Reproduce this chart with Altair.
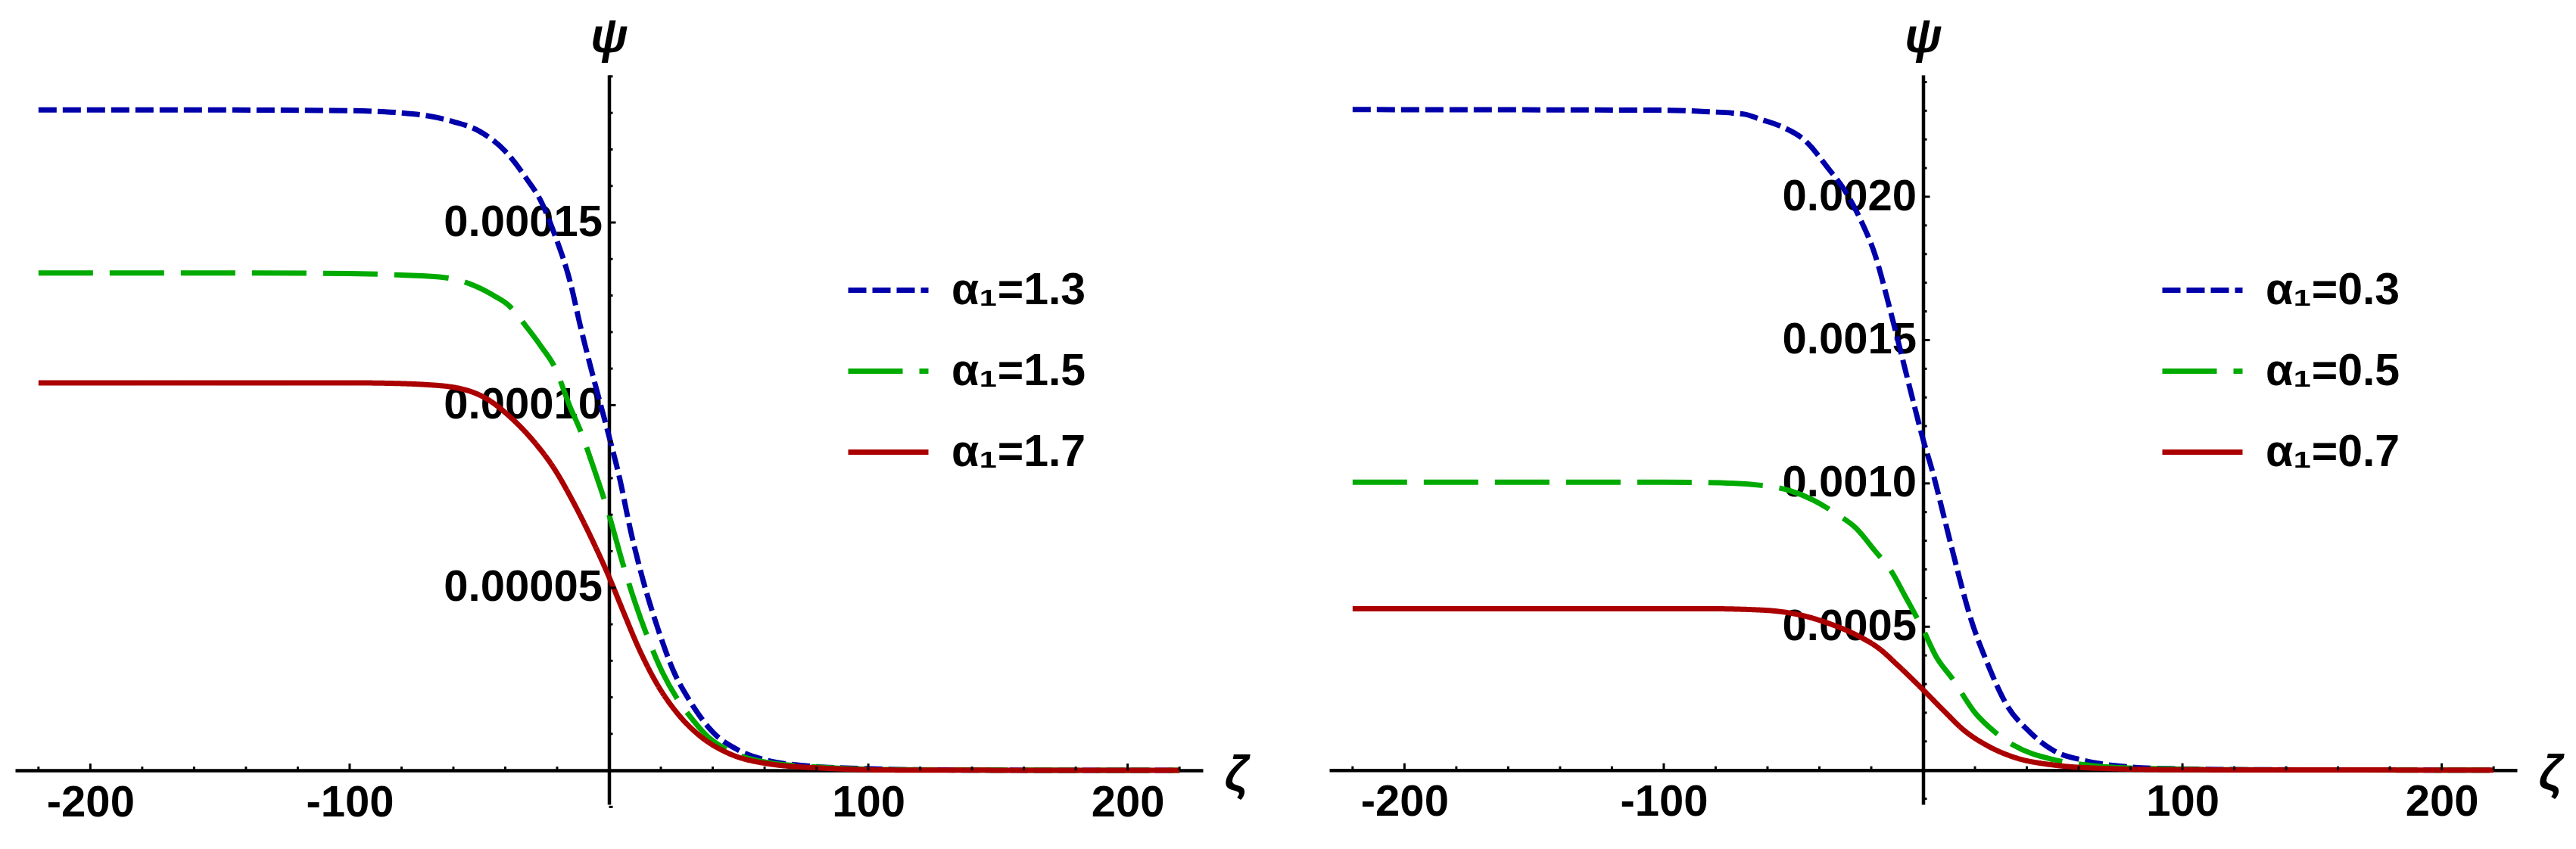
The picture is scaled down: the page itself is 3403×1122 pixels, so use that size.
import altair as alt
import pandas as pd

FONT = "Liberation Sans"

# ---------------- data ----------------
labels_left = ["α₁=1.3", "α₁=1.5", "α₁=1.7"]
labels_right = ["α₁=0.3", "α₁=0.5", "α₁=0.7"]
colors = ["#0000AA", "#00AA00", "#AA0000"]
dashes = [[24, 8], [72, 22], [1, 0]]

# left panel (psi in units of 1e-4)
zeta_l1 = [-220, -150, -100, -80, -70, -60, -50, -40, -32, -26, -21, -15, -11, -6, 0, 4, 8.5, 13, 19, 25, 31, 40, 50, 60, 75, 98, 130, 220]
psi_l1 = [1.808, 1.808, 1.806, 1.800, 1.792, 1.776, 1.750, 1.695, 1.622, 1.555, 1.468, 1.338, 1.215, 1.075, 0.915, 0.803, 0.651, 0.524, 0.385, 0.270, 0.192, 0.105, 0.055, 0.029, 0.013, 0.005, 0.001, 0.0]

zeta_l2 = [-220, -150, -100, -80, -63, -53, -44, -39, -32, -26, -21, -15, -11, -6, 0, 5.5, 10, 14.5, 20.5, 26.5, 31, 38, 46, 60, 83, 110, 220]
psi_l2 = [1.362, 1.362, 1.360, 1.356, 1.349, 1.330, 1.298, 1.275, 1.216, 1.159, 1.105, 0.995, 0.930, 0.830, 0.700, 0.562, 0.461, 0.372, 0.270, 0.194, 0.150, 0.093, 0.055, 0.023, 0.008, 0.002, 0.0]

zeta_l3 = [-220, -150, -100, -80, -73, -58.5, -46.6, -37.7, -28.7, -21.3, -13.8, -6.4, 0, 5.5, 11.5, 18.9, 26.4, 35.3, 45.7, 60.6, 83, 110, 220]
psi_l3 = [1.061, 1.061, 1.061, 1.059, 1.057, 1.047, 1.015, 0.965, 0.898, 0.828, 0.735, 0.630, 0.530, 0.435, 0.334, 0.232, 0.156, 0.093, 0.048, 0.019, 0.006, 0.001, 0.0]

# right panel (psi in units of 1e-3)
zeta_r1 = [-220, -100, -84, -69, -63, -54.4, -45.4, -36.5, -30.5, -24.6, -18.6, -12.7, -8.2, -3.7, 0, 3.7, 8.2, 12.7, 18.6, 24.6, 32, 41, 50, 61.8, 76.7, 94.6, 130, 220]
psi_r1 = [2.304, 2.302, 2.297, 2.288, 2.271, 2.244, 2.195, 2.098, 2.026, 1.929, 1.799, 1.605, 1.444, 1.282, 1.153, 1.039, 0.878, 0.716, 0.522, 0.377, 0.231, 0.134, 0.0695, 0.034, 0.013, 0.005, 0.001, 0.0]

zeta_r2 = [-220, -100, -84, -63.3, -51.4, -42.4, -33.5, -26, -18.6, -12.7, -6.7, 0, 5.2, 11.2, 20.1, 27.5, 35, 49.9, 64.8, 87, 120, 220]
psi_r2 = [1.004, 1.004, 1.003, 0.994, 0.975, 0.942, 0.894, 0.845, 0.765, 0.700, 0.603, 0.490, 0.393, 0.320, 0.199, 0.134, 0.086, 0.037, 0.016, 0.005, 0.001, 0.0]

zeta_r3 = [-220, -100, -84, -61.8, -46.9, -36.5, -24.6, -17.1, -9.7, 0, 8.2, 15.6, 24.6, 35, 50, 72, 100, 220]
psi_r3 = [0.563, 0.563, 0.563, 0.558, 0.540, 0.512, 0.466, 0.425, 0.365, 0.280, 0.205, 0.140, 0.086, 0.045, 0.018, 0.005, 0.001, 0.0]

x_major = [-200, -100, 100, 200]
x_minor = [-220, -180, -160, -140, -120, -80, -60, -40, -20, 20, 40, 60, 80, 120, 140, 160, 180, 220]
yl_major = [5e-5, 1e-4, 1.5e-4]
yl_minor = [-1e-5, 1e-5, 2e-5, 3e-5, 4e-5, 6e-5, 7e-5, 8e-5, 9e-5, 1.1e-4, 1.2e-4, 1.3e-4, 1.4e-4, 1.6e-4, 1.7e-4, 1.8e-4, 1.9e-4]
yr_major = [5e-4, 1e-3, 1.5e-3, 2e-3]
yr_minor = [-1e-4, 1e-4, 2e-4, 3e-4, 4e-4, 6e-4, 7e-4, 8e-4, 9e-4, 1.1e-3, 1.2e-3, 1.3e-3, 1.4e-3, 1.6e-3, 1.7e-3, 1.8e-3, 1.9e-3, 2.1e-3, 2.2e-3, 2.3e-3, 2.4e-3]


def frame(labels, zetas, psis, unit):
    rows = []
    for lab, zs, ps in zip(labels, zetas, psis):
        for z, p in zip(zs, ps):
            rows.append({"zeta": z, "psi": p * unit, "series": lab})
    return pd.DataFrame(rows)


df_left = frame(labels_left, [zeta_l1, zeta_l2, zeta_l3], [psi_l1, psi_l2, psi_l3], 1e-4)
df_right = frame(labels_right, [zeta_r1, zeta_r2, zeta_r3], [psi_r1, psi_r2, psi_r3], 1e-3)

W, H = 1569, 964
XDOM = [-229, 229]


def panel(df, labels, ydom, ymaj, ymin, yfmt):
    x0 = W * (0 - XDOM[0]) / (XDOM[1] - XDOM[0])
    y0 = H * (ydom[1] - 0) / (ydom[1] - ydom[0])
    xs = alt.Scale(domain=XDOM, nice=False, zero=False)
    ys = alt.Scale(domain=ydom, nice=False, zero=False)

    leg = alt.Legend(
        title=None, orient="none", legendX=1097, legendY=228,
        symbolType="stroke", symbolSize=11236, symbolStrokeWidth=7,
        labelFont=FONT, labelFontSize=59, labelFontWeight="bold", labelColor="black",
        labelOffset=27, labelLimit=500, rowPadding=20, padding=0,
    )

    xaxis = alt.Axis(
        orient="bottom", offset=-(H - y0), values=x_major, labelExpr="'' + datum.value",
        ticks=False, tickSize=0, grid=False, domainColor="black", domainWidth=4.5,
        labelFont=FONT, labelFontSize=58, labelFontWeight="bold", labelColor="black",
        labelPadding=14, labelFlush=False, labelOverlap=False, labelLimit=500,
        title="ζ", titleFont=FONT, titleFontSize=64, titleFontStyle="italic",
        titleFontWeight="bold", titleColor="black", titleX=W + 44, titleY=6,
        titleAngle=0, titleAlign="center", titleBaseline="middle",
    )
    yaxis = alt.Axis(
        orient="left", offset=-x0, values=ymaj, format=yfmt,
        ticks=False, tickSize=0, grid=False, domainColor="black", domainWidth=4.5,
        labelFont=FONT, labelFontSize=58, labelFontWeight="bold", labelColor="black",
        labelPadding=9, labelFlush=False, labelOverlap=False, labelLimit=500,
        title="ψ", titleFont=FONT, titleFontSize=64, titleFontStyle="italic",
        titleFontWeight="bold", titleColor="black", titleX=0, titleY=-50,
        titleAngle=0, titleAlign="center", titleBaseline="middle",
    )

    X = alt.X("zeta:Q", scale=xs, axis=xaxis)
    Y = alt.Y("psi:Q", scale=ys, axis=yaxis)

    lines = alt.Chart(df).mark_line(strokeWidth=7, strokeCap="butt", interpolate="monotone").encode(
        x=X,
        y=Y,
        color=alt.Color("series:N", scale=alt.Scale(domain=labels, range=colors), legend=leg),
        strokeDash=alt.StrokeDash("series:N", scale=alt.Scale(domain=labels, range=dashes), legend=leg),
        order=alt.Order("zeta:Q"),
    )

    def xticks(vals, L):
        d = pd.DataFrame({"zeta": vals, "psi": 0.0})
        return alt.Chart(d).mark_rule(color="black", strokeWidth=3, y2Offset=-L).encode(
            x=X, y=Y, y2="psi:Q",
        )

    def yticks(vals, L):
        d = pd.DataFrame({"psi": vals, "zeta": 0.0})
        return alt.Chart(d).mark_rule(color="black", strokeWidth=3, x2Offset=L).encode(
            y=Y, x=X, x2="zeta:Q",
        )

    return alt.layer(
        lines, xticks(x_major, 9), xticks(x_minor, 5), yticks(ymaj, 9), yticks(ymin, 5)
    ).properties(width=W, height=H)


left = panel(df_left, labels_left, [-9.3e-6, 1.904e-4], yl_major, yl_minor, ".5f")
right = panel(df_right, labels_right, [-1.196e-4, 2.425e-3], yr_major, yr_minor, ".4f")

chart = alt.hconcat(left, right, spacing=167, bounds="flush").resolve_scale(
    color="independent", strokeDash="independent", x="independent", y="independent"
).properties(
    padding={"left": 12, "top": 9, "right": 5, "bottom": 5}, background="white"
).configure_view(stroke=None)

chart.save("out.html", embed_options={"renderer": "svg", "actions": False})
